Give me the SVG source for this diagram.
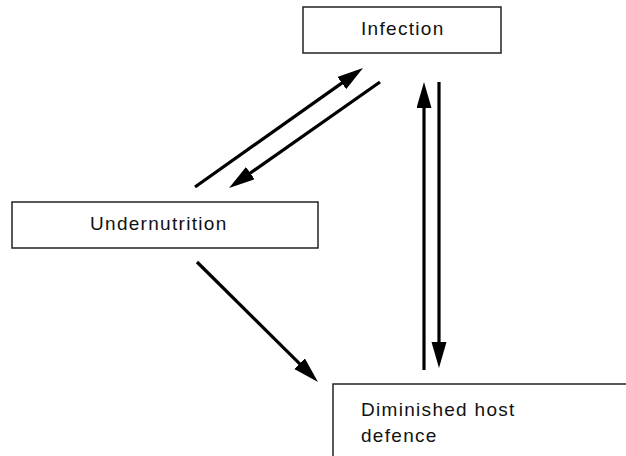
<svg xmlns="http://www.w3.org/2000/svg" width="626" height="456" viewBox="0 0 626 456">
<style>
.box{fill:#fff;stroke:#222;stroke-width:1.5}
.lbl{font-family:"Liberation Sans",Arial,sans-serif;font-size:19px;letter-spacing:1.3px;fill:#111}
.conn{stroke:#000;stroke-width:3.2;fill:none;marker-end:url(#ah)}
</style>
<defs>
<marker id="ah" markerUnits="userSpaceOnUse" markerWidth="28" markerHeight="16" refX="6" refY="7.5" orient="auto">
<path d="M0,0 L26,7.5 L0,15 z" fill="#000"/>
</marker>
</defs>
<rect width="626" height="456" fill="#fff"/>
<g id="infection">
<rect class="box" x="303" y="7" width="198" height="46"/>
<text class="lbl" x="361" y="35">Infection</text>
</g>
<g id="undernutrition">
<rect class="box" x="12" y="202" width="306" height="46"/>
<text class="lbl" x="90" y="230">Undernutrition</text>
</g>
<g id="diminished">
<rect class="box" x="333" y="384" width="310" height="90"/>
<text class="lbl" x="361" y="416">Diminished host</text>
<text class="lbl" x="361" y="442">defence</text>
</g>
<g id="connectors">
<line class="conn" x1="195" y1="187" x2="346.7" y2="79.6"/>
<line class="conn" x1="380" y1="82" x2="245.4" y2="176.5"/>
<line class="conn" x1="424" y1="370" x2="424" y2="102"/>
<line class="conn" x1="439" y1="82" x2="439" y2="348"/>
<line class="conn" x1="197" y1="262" x2="303.8" y2="367.9"/>
</g>
</svg>
